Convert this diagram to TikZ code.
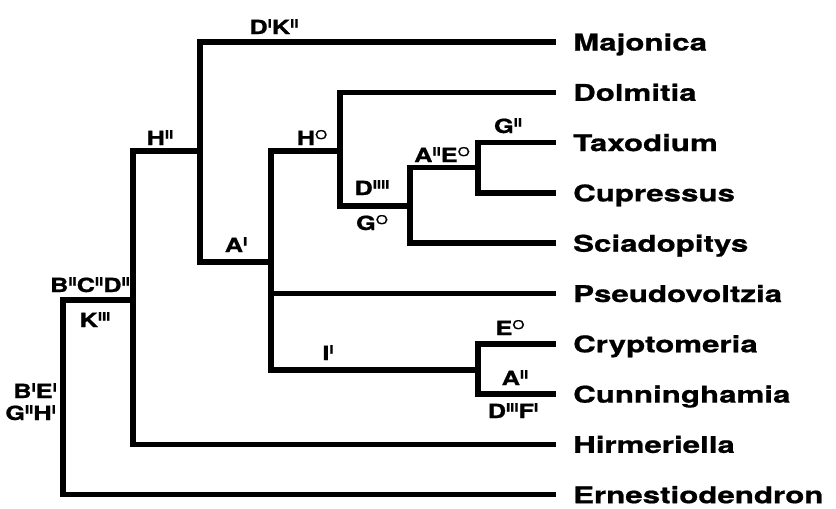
\documentclass[tikz,border=0pt]{standalone}
\usepackage{fontspec}
\setmainfont{TeX Gyre Heros}[FakeStretch=1.3,FakeBold=0.8]
\newfontfamily\leaffont{TeX Gyre Heros}[FakeStretch=1.36,FakeBold=0.8]
\newcommand\Sp[1]{\raisebox{6.5pt}{\fontsize{11.5}{11.5}\selectfont\bfseries #1}}
\newcommand\Dg{\raisebox{6pt}{\fontsize{12}{12}\selectfont\mdseries O}}
\begin{document}
\begin{tikzpicture}[x=1pt,y=-1pt,
  br/.style={line width=5.5pt,line cap=rect,line join=miter},
  leaf/.style={anchor=base west,font=\leaffont\bfseries\fontsize{23}{23}\selectfont,inner sep=0pt},
  lab/.style={anchor=base,font=\bfseries\fontsize{19.5}{19.5}\selectfont,inner sep=0pt}]
\useasboundingbox (0,0) rectangle (836,509);
% leaf end coordinates
\foreach \n/\y in {maj/42,dol/92.3,tax/142.6,cup/192.9,sci/243.2,pse/293.5,cry/343.8,cun/394.1,hir/444.4,ern/494.7}
  \coordinate (e\n) at (553,\y);
% internal nodes
\coordinate (root) at (63,300);
\coordinate (rootb) at (63,494.7);
\coordinate (n1) at (133,151);
\coordinate (n1b) at (133,444.4);
\coordinate (n2) at (200,42);
\coordinate (n2b) at (200,262);
\coordinate (n3) at (271,151);
\coordinate (n3b) at (271,370);
\coordinate (n4) at (340,92.3);
\coordinate (n4b) at (340,206);
\coordinate (n5) at (410,167.5);
\coordinate (n5b) at (410,243.2);
\coordinate (n6) at (478,142.6);
\coordinate (n6b) at (478,192.9);
\coordinate (n7) at (478,343.8);
\coordinate (n7b) at (478,394.1);
% branches
\draw[br] (root) -- (rootb) -- (eern);
\draw[br] (root) -- (root -| n1);
\draw[br] (n1) -- (n1b) -- (ehir);
\draw[br] (n1) -- (n1 -| n2);
\draw[br] (n2) -- (n2b) -- (n2b -| n3);
\draw[br] (n2) -- (emaj);
\draw[br] (n3) -- (n3b) -- (n3b -| n7);
\draw[br] (n3) -- (n3 -| n4);
\draw[br] (n3 |- epse) -- (epse);
\draw[br] (n4) -- (n4b) -- (n4b -| n5);
\draw[br] (n4) -- (edol);
\draw[br] (n5) -- (n5b) -- (esci);
\draw[br] (n5) -- (n5 -| n6);
\draw[br] (n6) -- (n6b) -- (ecup);
\draw[br] (n6) -- (etax);
\draw[br] (n7) -- (n7b) -- (ecun);
\draw[br] (n7) -- (ecry);
% leaf labels
\node[leaf] (tmaj) at (573,50.5) {Majonica};
\node[leaf] (tdol) at (573,100.8) {Dolmitia};
\node[leaf] (ttax) at (573,151.1) {Taxodium};
\node[leaf] (tcup) at (573,201.4) {Cupressus};
\node[leaf] (tsci) at (573,251.7) {Sciadopitys};
\node[leaf] (tpse) at (573,302) {Pseudovoltzia};
\node[leaf] (tcry) at (573,352.3) {Cryptomeria};
\node[leaf] (tcun) at (573,402.6) {Cunninghamia};
\node[leaf] (thir) at (573,452.9) {Hirmeriella};
\node[leaf] (tern) at (573,503.2) {Ernestiodendron};
% character labels
\node[lab] (l1) at (274,34) {D\Sp{I}K\Sp{II}};
\node[lab] (l2) at (160,145) {H\Sp{II}};
\node[lab] (l3) at (312,145) {H\Dg};
\node[lab] (l4) at (236,252) {A\Sp{I}};
\node[lab] (l5) at (328,360) {I\Sp{I}};
\node[lab] (l6) at (372,195) {D\Sp{IIII}};
\node[lab] (l7) at (372,230) {G\Dg};
\node[lab] (l8) at (442,162) {A\Sp{II}E\Dg};
\node[lab] (l9) at (508,133) {G\Sp{II}};
\node[lab] (l10) at (510,335) {E\Dg};
\node[lab] (l11) at (515,385) {A\Sp{II}};
\node[lab] (l12) at (513,418) {D\Sp{III}F\Sp{I}};
\node[lab] (l13) at (90,292) {B\Sp{II}C\Sp{II}D\Sp{II}};
\node[lab] (l14) at (95,327) {K\Sp{III}};
\node[lab,anchor=base east] (l15) at (57,398) {B\Sp{I}E\Sp{I}};
\node[lab,anchor=base east] (l16) at (56,420) {G\Sp{II}H\Sp{I}};
\end{tikzpicture}
\end{document}
